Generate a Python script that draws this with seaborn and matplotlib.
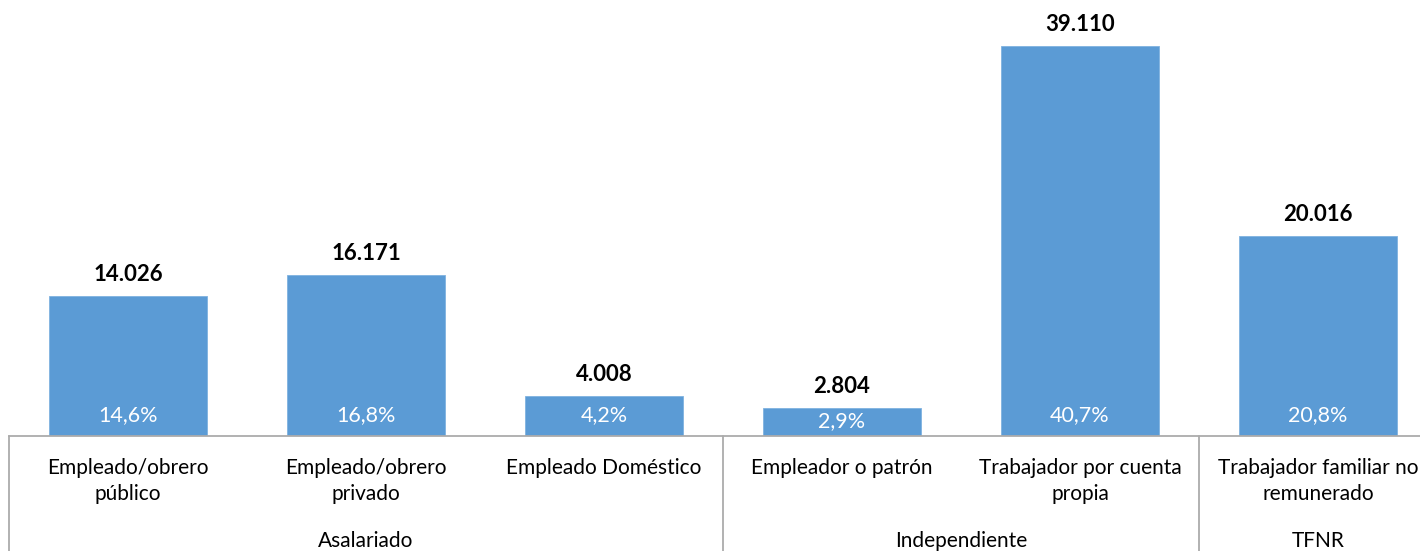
import matplotlib
matplotlib.use("Agg")
import matplotlib.pyplot as plt
import matplotlib.transforms as mtransforms
import seaborn as sns
import pandas as pd

# Ocupados por categoría ocupacional
categorias = [
    "Empleado/obrero\npúblico",
    "Empleado/obrero\nprivado",
    "Empleado Doméstico",
    "Empleador o patrón",
    "Trabajador por cuenta\npropia",
    "Trabajador familiar no\nremunerado",
]
valores = [14026, 16171, 4008, 2804, 39110, 20016]
etiquetas_valor = ["14.026", "16.171", "4.008", "2.804", "39.110", "20.016"]
porcentajes = ["14,6%", "16,8%", "4,2%", "2,9%", "40,7%", "20,8%"]
grupos = ["Asalariado", "Independiente", "TFNR"]
grupo_centro = [1, 3.5, 5]
separadores = [-0.5, 2.5, 4.5]

sns.set_theme(style="white")
plt.rcParams["font.family"] = ["Lato", "DejaVu Sans"]

W, H = 1420, 551
DPI = 100
fig = plt.figure(figsize=(W / DPI, H / DPI), dpi=DPI)

# axes spans x 9..1437 px (right side runs past the figure edge), y 0..436 px
x0, x1 = 9, 1437
base = 436
ax = fig.add_axes([x0 / W, (H - base) / H, (x1 - x0) / W, base / H])

df = pd.DataFrame({"cat": categorias, "val": valores})
sns.barplot(data=df, x="cat", y="val", color="#5B9BD5", saturation=1,
            width=0.66, ax=ax, edgecolor="#7FB2E0", linewidth=0.6)

ax.set_xlim(-0.5, 5.5)
ax.set_ylim(0, max(valores) * base / 390)
ax.set_xlabel("")
ax.set_ylabel("")
ax.set_xticks([])
ax.set_yticks([])
for s in ["top", "right", "left"]:
    ax.spines[s].set_visible(False)
ax.spines["bottom"].set_color("#ABABAB")
ax.spines["bottom"].set_linewidth(1.3)

pt_per_px = 72 / DPI

def bar_height_px(v):
    return ax.transData.transform((0, v))[1] - ax.transData.transform((0, 0))[1]

# value labels above bars, percentage labels inside at the base
for i, (v, lab, pct) in enumerate(zip(valores, etiquetas_valor, porcentajes)):
    ax.annotate(lab, (i, v), xytext=(0, 8), textcoords="offset points",
                ha="center", va="bottom", fontsize=16, fontweight="bold",
                color="#000000")
    # keep the percentage inside short bars
    lift_px = min(15, bar_height_px(v) - 19)
    ax.annotate(pct, (i, 0), xytext=(0, lift_px * pt_per_px),
                textcoords="offset points", ha="center", va="baseline",
                fontsize=15.5, color="white")

trans = mtransforms.blended_transform_factory(ax.transData, ax.transAxes)

def yfrac(py):
    return (base - py) / base

# category labels under the axis
for i, c in enumerate(categorias):
    ax.text(i, yfrac(458), c, transform=trans, ha="center", va="top",
            fontsize=15, linespacing=1.4, color="#000000", clip_on=False)

# group labels
for g, xc in zip(grupos, grupo_centro):
    ax.text(xc, yfrac(541), g, transform=trans, ha="center", va="center",
            fontsize=15, color="#000000", clip_on=False)

# group separator lines below the axis
for xs in separadores:
    ax.plot([xs, xs], [0, yfrac(H + 2)], transform=trans, color="#ABABAB",
            linewidth=1.3, clip_on=False)

fig.savefig("out.png", dpi=DPI, facecolor="white")
